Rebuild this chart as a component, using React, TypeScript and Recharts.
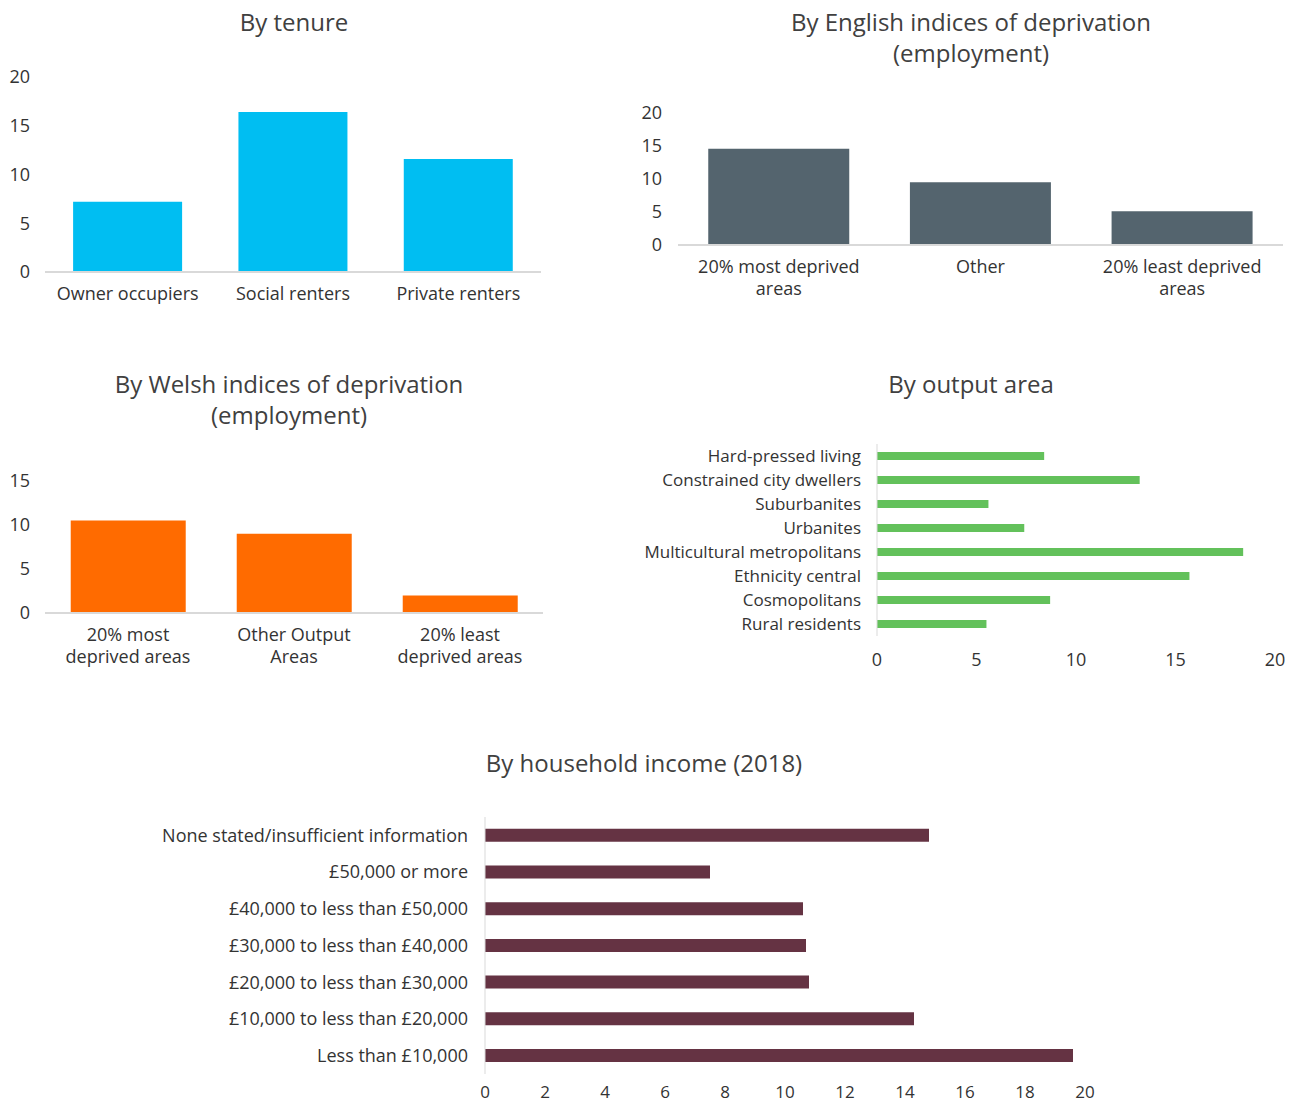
import { BarChart, Bar, XAxis, YAxis } from 'recharts';

const FONT = '"Open Sans", "Liberation Sans", Arial, sans-serif';
const TEXT = '#333333';
const AXIS_GREY = '#d9d9d9';

const TENURE_CATS = ['Owner occupiers', 'Social renters', 'Private renters'];
const TENURE_VALUES = [7.2, 16.4, 11.6];
const TENURE_TICKS = [0, 5, 10, 15, 20];

const ENG_CATS = ['20% most deprived areas', 'Other', '20% least deprived areas'];
const ENG_VALUES = [14.6, 9.5, 5.1];
const ENG_TICK_LINES = [['20% most deprived', 'areas'], ['Other'], ['20% least deprived', 'areas']];
const ENG_TICKS = [0, 5, 10, 15, 20];

const WELSH_CATS = ['20% most deprived areas', 'Other Output Areas', '20% least deprived areas'];
const WELSH_VALUES = [10.5, 9.0, 2.0];
const WELSH_TICK_LINES = [['20% most', 'deprived areas'], ['Other Output', 'Areas'], ['20% least', 'deprived areas']];
const WELSH_TICKS = [0, 5, 10, 15];

const OAC_CATS = [
  'Hard-pressed living',
  'Constrained city dwellers',
  'Suburbanites',
  'Urbanites',
  'Multicultural metropolitans',
  'Ethnicity central',
  'Cosmopolitans',
  'Rural residents',
];
const OAC_VALUES = [8.4, 13.2, 5.6, 7.4, 18.4, 15.7, 8.7, 5.5];
const OAC_TICKS = [0, 5, 10, 15, 20];

const INCOME_CATS = [
  'None stated/insufficient information',
  '£50,000 or more',
  '£40,000 to less than £50,000',
  '£30,000 to less than £40,000',
  '£20,000 to less than £30,000',
  '£10,000 to less than £20,000',
  'Less than £10,000',
];
const INCOME_VALUES = [14.8, 7.5, 10.6, 10.7, 10.8, 14.3, 19.6];
const INCOME_TICKS = [0, 2, 4, 6, 8, 10, 12, 14, 16, 18, 20];

const toRows = (cats: string[], vals: number[]) => cats.map((name, i) => ({ name, value: vals[i] }));

const tickStyle = { fontSize: 18, fill: TEXT, fontFamily: FONT };

function Title({ lines, x, y }: { lines: string[]; x: number; y: number }) {
  return (
    <div
      style={{
        position: 'absolute',
        left: x - 300,
        top: y,
        width: 600,
        textAlign: 'center',
        fontFamily: FONT,
        fontSize: 24,
        lineHeight: '31px',
        color: '#404040',
      }}
    >
      {lines.map((l) => (
        <div key={l}>{l}</div>
      ))}
    </div>
  );
}

// multi-line category tick for the deprivation charts
function makeWrappedTick(cats: string[], lines: string[][]) {
  return (props: any) => {
    const { x, y, payload } = props;
    const idx = cats.indexOf(payload.value);
    const parts = idx >= 0 ? lines[idx] : [payload.value];
    return (
      <text x={x} y={y} textAnchor="middle" fill={TEXT} fontSize={18} fontFamily={FONT}>
        {parts.map((p, i) => (
          <tspan key={i} x={x} dy={i === 0 ? '0.71em' : 22}>
            {p}
          </tspan>
        ))}
      </text>
    );
  };
}

export default function App() {
  const engTick = makeWrappedTick(ENG_CATS, ENG_TICK_LINES);
  const welshTick = makeWrappedTick(WELSH_CATS, WELSH_TICK_LINES);

  return (
    <div style={{ position: 'absolute', left: 0, top: 0, width: 1298, height: 1104, background: '#fff', overflow: 'hidden' }}>
      <Title lines={['By tenure']} x={294} y={6} />
      <div style={{ position: 'absolute', left: 0, top: 60 }}>
        <BarChart width={560} height={260} data={toRows(TENURE_CATS, TENURE_VALUES)}
          margin={{ top: 17, right: 19, left: 0, bottom: 18 }} barCategoryGap="17%">
          <XAxis dataKey="name" height={30} tickLine={false} tickSize={0} tickMargin={15}
            axisLine={{ stroke: AXIS_GREY, strokeWidth: 2 }} tick={tickStyle} interval={0} />
          <YAxis width={45} domain={[0, 20]} ticks={TENURE_TICKS} axisLine={false} tickLine={false}
            tickSize={0} tickMargin={15} tick={tickStyle} />
          <Bar dataKey="value" fill="#00bef2" isAnimationActive={false} />
        </BarChart>
      </div>

      <Title lines={['By English indices of deprivation', '(employment)']} x={971} y={6} />
      <div style={{ position: 'absolute', left: 630, top: 100 }}>
        <BarChart width={668} height={220} data={toRows(ENG_CATS, ENG_VALUES)}
          margin={{ top: 13, right: 15, left: 0, bottom: 15 }} barCategoryGap="15%">
          <XAxis dataKey="name" height={60} tickLine={false} tickSize={0} tickMargin={15}
            axisLine={{ stroke: AXIS_GREY, strokeWidth: 2 }} tick={engTick} interval={0} />
          <YAxis width={48} domain={[0, 20]} ticks={ENG_TICKS} axisLine={false} tickLine={false}
            tickSize={0} tickMargin={16} tick={tickStyle} />
          <Bar dataKey="value" fill="#54646e" isAnimationActive={false} />
        </BarChart>
      </div>

      <Title lines={['By Welsh indices of deprivation', '(employment)']} x={289} y={368} />
      <div style={{ position: 'absolute', left: 0, top: 460 }}>
        <BarChart width={560} height={220} data={toRows(WELSH_CATS, WELSH_VALUES)}
          margin={{ top: 21, right: 17, left: 0, bottom: 7 }} barCategoryGap="15.5%">
          <XAxis dataKey="name" height={60} tickLine={false} tickSize={0} tickMargin={15}
            axisLine={{ stroke: AXIS_GREY, strokeWidth: 2 }} tick={welshTick} interval={0} />
          <YAxis width={45} domain={[0, 15]} ticks={WELSH_TICKS} axisLine={false} tickLine={false}
            tickSize={0} tickMargin={15} tick={tickStyle} />
          <Bar dataKey="value" fill="#ff6b00" isAnimationActive={false} />
        </BarChart>
      </div>

      <Title lines={['By output area']} x={971} y={368} />
      <div style={{ position: 'absolute', left: 630, top: 430 }}>
        <BarChart width={668} height={250} layout="vertical" data={toRows(OAC_CATS, OAC_VALUES)}
          margin={{ top: 14, right: 23, left: 0, bottom: 14 }} barCategoryGap="33%">
          <XAxis type="number" domain={[0, 20]} ticks={OAC_TICKS} height={30} axisLine={false}
            tickLine={false} tickSize={0} tickMargin={17} tick={tickStyle} />
          <YAxis type="category" dataKey="name" width={247} interval={0} tickLine={false} tickSize={0}
            tickMargin={16} axisLine={{ stroke: AXIS_GREY, strokeWidth: 1 }}
            tick={{ ...tickStyle, fontSize: 17 }} />
          <Bar dataKey="value" fill="#63c15b" isAnimationActive={false} />
        </BarChart>
      </div>

      <Title lines={['By household income (2018)']} x={644} y={747} />
      <div style={{ position: 'absolute', left: 160, top: 800 }}>
        <BarChart width={960} height={304} layout="vertical" data={toRows(INCOME_CATS, INCOME_VALUES)}
          margin={{ top: 17, right: 35, left: 0, bottom: 6 }} barCategoryGap="32%">
          <XAxis type="number" domain={[0, 20]} ticks={INCOME_TICKS} height={24} axisLine={false}
            tickLine={false} tickSize={0} tickMargin={12} tick={{ ...tickStyle, fontSize: 17 }} />
          <YAxis type="category" dataKey="name" width={325} interval={0} tickLine={false} tickSize={0}
            tickMargin={17} axisLine={{ stroke: AXIS_GREY, strokeWidth: 1 }}
            tick={{ ...tickStyle, fontSize: 18 }} />
          <Bar dataKey="value" fill="#653343" isAnimationActive={false} />
        </BarChart>
      </div>
    </div>
  );
}
